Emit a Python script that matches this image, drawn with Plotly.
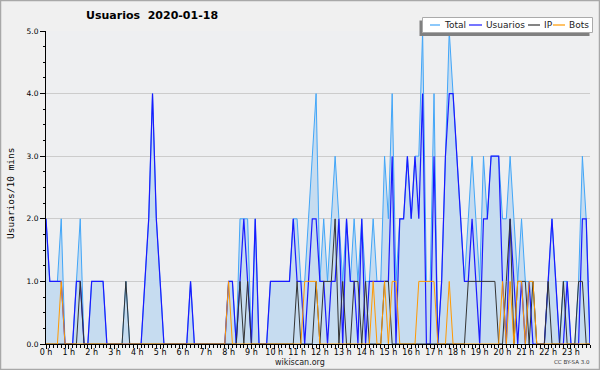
import plotly.graph_objects as go

# 10-minute slots over the day (144 slots)
slots = list(range(144))
hour_ticks = [h * 6 for h in range(24)]
hour_labels = [f"{h} h" for h in range(24)]
y_ticks = [0, 1, 2, 3, 4, 5]
y_labels = ["0.0", "1.0", "2.0", "3.0", "4.0", "5.0"]

total = [2,1,1,1,2,0, 0,0,1,2,0,0, 1,1,1,1,0,0, 0,0,0,1,0,0,
         0,0,1,2,4,2, 1,0,0,0,0,0, 0,0,1,0,0,0, 0,0,0,0,0,0,
         1,1,0,2,2,2, 0,2,0,0,0,1, 1,1,1,1,1,2, 2,1,1,2,3,4,
         1,2,1,2,3,2, 1,2,1,2,1,2, 1,1,2,1,1,3, 2,4,1,2,2,3,
         2,3,3,5,1,1, 4,0,1,3,5,4, 3,2,1,2,3,2, 1,3,2,3,3,3,
         2,2,3,2,1,2, 1,1,1,0,0,0, 1,2,1,0,1,1, 0,0,1,3,2,0]

usuarios = [2,1,1,1,1,0, 0,0,1,1,0,0, 1,1,1,1,0,0, 0,0,0,0,0,0,
            0,0,1,2,4,2, 1,0,0,0,0,0, 0,0,1,0,0,0, 0,0,0,0,0,0,
            1,1,0,1,2,1, 0,2,0,0,0,1, 1,1,1,1,1,2, 1,1,0,1,2,2,
            1,1,0,1,1,2, 0,2,1,1,0,2, 0,1,1,1,1,1, 1,3,0,2,2,3,
            2,3,2,4,0,0, 3,0,1,3,4,4, 3,2,1,1,2,1, 0,2,2,3,3,3,
            1,0,2,1,0,1, 0,1,0,0,0,0, 1,2,1,0,0,1, 0,0,0,2,2,0]

ip = [0,0,0,0,0,0, 0,0,0,1,0,0, 0,0,0,0,0,0, 0,0,0,1,0,0,
      0,0,0,0,0,0, 0,0,0,0,0,0, 0,0,0,0,0,0, 0,0,0,0,0,0,
      0,0,0,1,0,1, 0,0,0,0,0,0, 0,0,0,0,0,0, 1,0,0,0,0,1,
      0,1,1,1,2,0, 1,0,0,1,1,0, 1,0,0,0,0,1, 1,0,0,0,0,0,
      0,0,0,0,0,0, 0,0,0,0,0,0, 0,0,0,1,1,1, 1,1,1,1,1,0,
      0,1,2,0,1,1, 1,0,1,0,0,0, 1,0,0,0,1,0, 0,0,1,1,0,0]

bots = [0,0,0,0,1,0, 0,0,0,0,0,0, 0,0,0,0,0,0, 0,0,0,0,0,0,
        0,0,0,0,0,0, 0,0,0,0,0,0, 0,0,0,0,0,0, 0,0,0,0,0,0,
        1,0,0,0,0,0, 0,0,0,0,0,0, 0,0,0,0,0,0, 0,0,1,1,1,1,
        0,0,0,0,0,0, 0,0,0,0,0,0, 0,0,1,0,0,1, 0,1,1,0,0,0,
        0,0,1,1,1,1, 1,0,0,0,1,0, 0,0,0,0,0,0, 0,0,0,0,0,0,
        1,0,1,0,1,1, 0,1,1,0,0,0, 0,0,0,0,0,0, 0,0,0,0,0,0]

C_TOTAL = "#42a6f8"
C_FILL = "#c6dcf0"
C_USER = "#1a1aff"
C_IP = "#333333"
C_BOTS = "#ff9900"

fig = go.Figure()
fig.add_trace(go.Scatter(x=slots, y=total, mode="lines", name="Total",
                         line=dict(color=C_TOTAL, width=1), fill="tozeroy",
                         fillcolor=C_FILL, showlegend=False))
fig.add_trace(go.Scatter(x=slots, y=usuarios, mode="lines", name="Usuarios",
                         line=dict(color=C_USER, width=1.2), showlegend=False))
fig.add_trace(go.Scatter(x=slots, y=ip, mode="lines", name="IP",
                         line=dict(color=C_IP, width=1), showlegend=False))
fig.add_trace(go.Scatter(x=slots, y=bots, mode="lines", name="Bots",
                         line=dict(color=C_BOTS, width=1), showlegend=False))

L, R, T, B = 46, 590, 31, 344
def px(x):
    return (x - L) / (R - L)
def py(y):
    return (B - y) / (B - T)

shapes = []
annotations = []

# outer border
shapes.append(dict(type="rect", xref="paper", yref="paper", x0=px(0.5), x1=px(599.5),
                   y0=py(0.5), y1=py(369.5), line=dict(color="#a8a8a8", width=1.5),
                   fillcolor="rgba(0,0,0,0)", layer="below"))

# legend box with shadow
shapes.append(dict(type="rect", xref="paper", yref="paper", x0=px(419.5), x1=px(589.5),
                   y0=py(36), y1=py(20.5), line=dict(width=0), fillcolor="#808080", layer="above"))
shapes.append(dict(type="rect", xref="paper", yref="paper", x0=px(422.5), x1=px(592.5),
                   y0=py(32.5), y1=py(17.5), line=dict(color="#aaaaaa", width=1),
                   fillcolor="#ffffff", layer="above"))

legend_items = [("Total", C_TOTAL, 430, 442), ("Usuarios", C_USER, 469, 484),
                ("IP", C_IP, 528, 542), ("Bots", C_BOTS, 553, 567)]
for name, col, lx, tx in legend_items:
    shapes.append(dict(type="line", xref="paper", yref="paper", x0=px(lx), x1=px(tx - 2),
                       y0=py(25), y1=py(25), line=dict(color=col, width=1.2), layer="above"))
    annotations.append(dict(text=name, xref="paper", yref="paper", x=px(tx), y=py(25),
                            xanchor="left", yanchor="middle", showarrow=False,
                            font=dict(family="DejaVu Sans", size=9, color="#222222")))

# title
annotations.append(dict(text="<b>Usuarios \u00a02020-01-18</b>", xref="paper", yref="paper",
                        x=px(84), y=py(16), xanchor="left", yanchor="middle", showarrow=False,
                        font=dict(family="DejaVu Sans", size=11, color="#000000")))
# y title
annotations.append(dict(text="Usuarios/10 mins", xref="paper", yref="paper", x=px(10), y=py(193),
                        xanchor="center", yanchor="middle", textangle=-90, showarrow=False,
                        font=dict(family="DejaVu Sans Mono", size=9.5, color="#000000")))
# footer
annotations.append(dict(text="wikiscan.org", xref="paper", yref="paper", x=px(300), y=py(362),
                        xanchor="center", yanchor="middle", showarrow=False,
                        font=dict(family="DejaVu Sans", size=8, color="#222222")))
annotations.append(dict(text="CC BY-SA 3.0", xref="paper", yref="paper", x=px(592), y=py(362),
                        xanchor="right", yanchor="middle", showarrow=False,
                        font=dict(family="DejaVu Sans", size=5.5, color="#333333")))

fig.update_layout(
    template="none",
    width=600, height=370,
    margin=dict(l=L, r=600 - R, t=T, b=370 - B, autoexpand=False),
    paper_bgcolor="#f0f0f0", plot_bgcolor="#eeeff1",
    showlegend=False,
    shapes=shapes, annotations=annotations,
    xaxis=dict(range=[0, 143], tickmode="array", tickvals=hour_ticks, ticktext=hour_labels,
               automargin=False, ticklabelstandoff=-4,
               ticks="outside", ticklen=4, tickwidth=1, tickcolor="#000000",
               showline=True, linecolor="#000000", linewidth=1, showgrid=False, zeroline=False,
               tickfont=dict(family="DejaVu Sans", size=8, color="#000000"),
               minor=dict(tick0=0, dtick=1, ticks="outside", ticklen=3, tickcolor="#000000",
                          showgrid=False)),
    yaxis=dict(range=[0, 5], tickmode="array", tickvals=y_ticks, ticktext=y_labels,
               automargin=False,
               ticks="outside", ticklen=5, tickwidth=1, tickcolor="#000000",
               showline=True, linecolor="#000000", linewidth=1, showgrid=True,
               gridcolor="#cccccc", gridwidth=1, zeroline=False,
               tickfont=dict(family="DejaVu Sans", size=7.5, color="#000000"),
               minor=dict(tick0=0, dtick=0.25, ticks="outside", ticklen=2, tickcolor="#000000",
                          showgrid=False)),
)

fig.write_html("out.html", config={"displayModeBar": False, "staticPlot": True},
               post_script="document.body.style.margin='0';document.body.style.padding='0';document.body.style.overflow='hidden';")
